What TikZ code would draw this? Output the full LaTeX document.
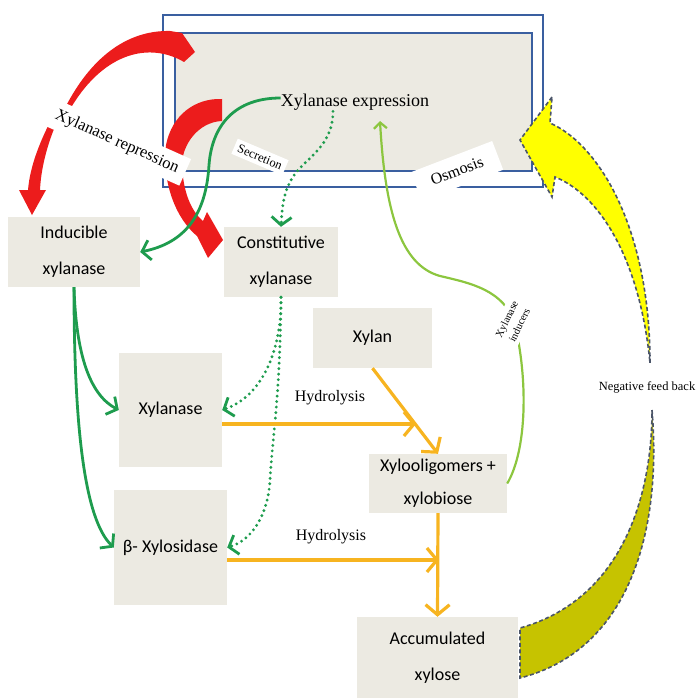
\documentclass[tikz,border=0pt]{standalone}
\usepackage{fontspec}
\setmainfont{Liberation Serif}
\newfontfamily\calibri{Carlito}
\usepackage{xcolor}
\definecolor{boxfill}{HTML}{ECEAE2}
\definecolor{wallcol}{HTML}{3A5FA0}
\definecolor{repcol}{HTML}{EC1C1C}
\definecolor{enzcol}{HTML}{1E9C4E}
\definecolor{hydcol}{HTML}{F7B420}
\definecolor{indcol}{HTML}{8CC63F}
\definecolor{fbyellow}{HTML}{FFFF00}
\definecolor{fbolive}{HTML}{C6C300}
\definecolor{fbedge}{HTML}{4B5569}
\usepackage{tikz}
\usetikzlibrary{arrows.meta, positioning, calc}

\begin{document}
\begin{tikzpicture}[x=1pt, y=-1pt,
  cellbox/.style={fill=boxfill, inner sep=0pt, align=center,
    font=\calibri\fontsize{18}{36}\selectfont},
  tagbox/.style={fill=white, inner sep=5pt},
  enzline/.style={enzcol, line width=2.8pt,
    -{Straight Barb[length=8pt,width=20pt,line width=2.8pt]}},
  enzdots/.style={enzline, line width=3.2pt, dash pattern=on 0pt off 5.5pt, line cap=round},
  hydline/.style={hydcol, line width=3.2pt,
    -{Straight Barb[length=10pt,width=24pt,line width=3.2pt]}},
  fbshape/.style={draw=fbedge, line width=1.6pt, dash pattern=on 4pt off 2.5pt}]

\useasboundingbox (0,0) rectangle (697,698);

% cell wall and membrane
\node[draw=wallcol, line width=2pt, inner sep=0pt,
      minimum width=380pt, minimum height=172pt] (wall) at (353,101) {};
\node[draw=wallcol, fill=boxfill, line width=2pt, inner sep=0pt,
      minimum width=357pt, minimum height=138pt] (cell) at (353.5,102) {};
\node[font=\fontsize{18}{20}\selectfont, inner sep=1pt] (expr) at (355,102)
      {Xylanase expression};

% repression arrows
\fill[repcol] (66,106) .. controls (90,60) and (125,30) .. (170,31) -- (182,33)
  -- (195,52) -- (184,62) .. controls (150,42) and (105,52) .. (72,106) -- cycle;
\fill[repcol] (56,124) .. controls (46,148) and (41,170) .. (40,190) -- (46,190)
  -- (32,215) -- (19,190) -- (28,190) .. controls (30,166) and (40,142) .. (50,122) -- cycle;
\fill[repcol] (222,99) .. controls (195,98) and (172,115) .. (166,145)
  .. controls (162,175) and (172,215) .. (197,236) -- (208,258) -- (223,240)
  -- (207,212) -- (203,221) .. controls (190,210) and (183,190) .. (182,165)
  .. controls (182,145) and (198,122) .. (222,121) -- cycle;

% negative feed back
\filldraw[fbshape, fill=fbyellow] (552,97) -- (520,140) -- (552,197) -- (555,177)
  .. controls (600,195) and (640,260) .. (650,363)
  .. controls (650,230) and (600,145) .. (550,123) -- cycle;
\filldraw[fbshape, fill=fbolive] (652,410) .. controls (662,530) and (630,650) .. (520,678)
  -- (520,628) .. controls (620,600) and (652,500) .. (652,410) -- cycle;

% boxes
\node[cellbox, minimum width=132pt, minimum height=70pt] (induc) at (74,252) {Inducible\\xylanase};
\node[cellbox, minimum width=114pt, minimum height=70pt] (const) at (281,262) {Constitutive\\xylanase};
\node[cellbox, minimum width=103pt, minimum height=114pt] (xylnase) at (170.5,410) {Xylanase};
\node[cellbox, minimum width=113pt, minimum height=115pt] (xylsid) at (170.5,547.5) {β- Xylosidase};
\node[cellbox, minimum width=119pt, minimum height=60pt] (xylan) at (372.5,338) {Xylan};
\node[cellbox, minimum width=138pt, minimum height=59pt,
      font=\calibri\fontsize{18}{33}\selectfont] (oligo) at (438,483.5) {Xylooligomers +\\xylobiose};
\node[cellbox, minimum width=161pt, minimum height=81pt] (accum) at (437.5,657.5) {Accumulated\\xylose};

% secretion
\draw[enzline] ($(expr.west)+(1,-4)$) .. controls (235,98) and (212,125) .. (209,165)
  .. controls (206,215) and (185,243) .. (induc.east);
\draw[enzdots] ($(expr.south)+(-22,0)$) .. controls (333,150) and (300,160) .. (290,182)
  .. controls (283,195) and (282,210) .. (const.north);
\draw[enzdots] (const.south) .. controls (282,345) and (265,395) .. (xylnase.east);
\draw[enzdots] (const.south) .. controls (280,400) and (272,440) .. (270,480)
  .. controls (268,515) and (252,540) .. (xylsid.east);
\draw[enzline] (induc.south) .. controls (76,355) and (90,395) .. (xylnase.west);
\draw[enzline] (induc.south) .. controls (74,430) and (85,520) .. (xylsid.west);

% hydrolysis
\coordinate (meet) at (416,424);
\coordinate (join) at (439,560);
\draw[hydline] ($(xylnase.east)+(0,14)$) -- (meet);
\draw[hydline] (xylan.south) -- (oligo.north);
\draw[hydline] ($(xylsid.east)+(0,12.5)$) -- (join);
\draw[hydline] (oligo.south) -- (accum.north);
\node[font=\fontsize{16}{18}\selectfont] (hyd1) at (330,398) {Hydrolysis};
\node[font=\fontsize{16}{18}\selectfont] (hyd2) at (331,537) {Hydrolysis};

% inducers
\coordinate (indtip) at (380,121);
\draw[indcol, line width=2.2pt, -{Straight Barb[length=6pt,width=13pt,line width=2.2pt]}] (oligo.east)
  .. controls (527,450) and (528,380) .. (515,325)
  .. controls (505,290) and (470,283) .. (440,276)
  .. controls (400,265) and (385,210) .. (indtip);

% labels
\node[tagbox, rotate=-24, font=\fontsize{16.5}{18}\selectfont, inner xsep=8pt, inner ysep=7pt]
  (rep) at (117,142) {Xylanase repression};
\node[tagbox, rotate=-23, font=\fontsize{12.5}{14}\selectfont, inner sep=4pt]
  (sec) at (260,157) {Secretion};
\node[tagbox, rotate=21, font=\fontsize{16}{18}\selectfont, inner xsep=16pt, inner ysep=10pt]
  (osm) at (457,171) {Osmosis};
\node[tagbox, rotate=64, font=\fontsize{10.5}{14}\selectfont, align=center, inner sep=4pt]
  (ind) at (513,322) {Xylanase\\inducers};
\node[font=\fontsize{12.5}{14}\selectfont] (neg) at (647,387) {Negative feed back};
\end{tikzpicture}
\end{document}
